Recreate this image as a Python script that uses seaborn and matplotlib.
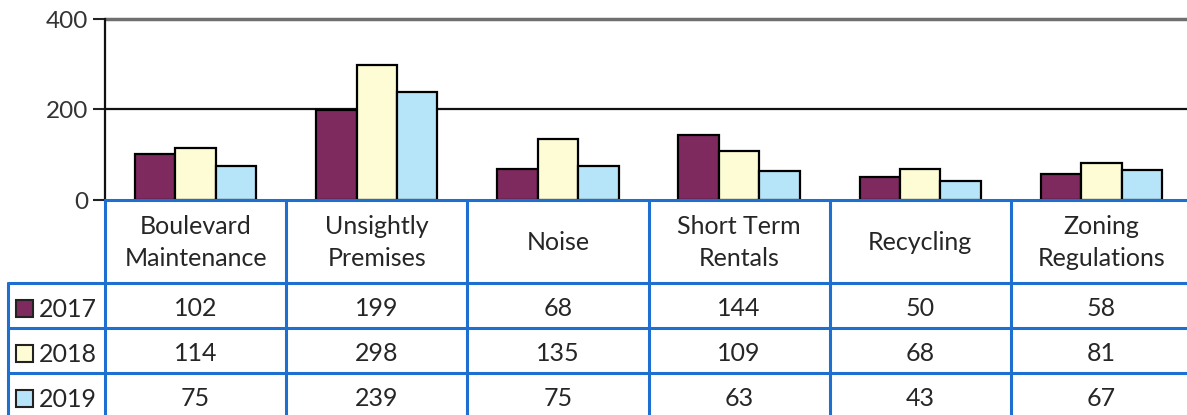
import numpy as np
import pandas as pd
import matplotlib.pyplot as plt
import seaborn as sns
from matplotlib.patches import Rectangle

# complaint categories and counts per year
categories = ["Boulevard\nMaintenance", "Unsightly\nPremises", "Noise",
              "Short Term\nRentals", "Recycling", "Zoning\nRegulations"]
years = ["2017", "2018", "2019"]
counts_2017 = [102, 199, 68, 144, 50, 58]
counts_2018 = [114, 298, 135, 109, 68, 81]
counts_2019 = [75, 239, 75, 63, 43, 67]
year_colors = ["#7e2a5f", "#fdfcd4", "#b6e4f8"]
y_ticks = [0, 200, 400]

TEXT = "#262626"
BLUE = "#1f6fd0"


def main():
    df = pd.DataFrame({"category": categories, "2017": counts_2017,
                       "2018": counts_2018, "2019": counts_2019})
    long_df = df.melt(id_vars="category", var_name="year", value_name="count")

    sns.set_style("white")
    plt.rcParams['font.family'] = ['Lato', 'DejaVu Sans']

    W, H = 1187, 415
    fig = plt.figure(figsize=(W / 100, H / 100), dpi=100)

    # bar chart part
    ax = fig.add_axes([105 / W, (H - 200) / H, (1192 - 105) / W, 181 / H])
    sns.barplot(data=long_df, x="category", y="count", hue="year",
                hue_order=years, palette=year_colors, saturation=1,
                width=0.67, edgecolor="black", linewidth=1.6,
                legend=False, ax=ax, zorder=3)
    ax.set_xlim(-0.5, len(categories) - 0.5)
    ax.set_ylim(0, 400)
    ax.set_yticks(y_ticks)
    ax.set_yticklabels([str(t) for t in y_ticks], fontsize=17.5, color="#333333")
    ax.tick_params(axis='y', length=9, width=1.5, color="#222222", pad=3, left=True)
    ax.set_xticks([])
    ax.set_xlabel("")
    ax.set_ylabel("")
    ax.axhline(200, color="#111111", lw=1.6, zorder=1)
    ax.axhline(400, color="#6f6f6f", lw=2.5, zorder=1, clip_on=False)
    for s in ["top", "right", "bottom"]:
        ax.spines[s].set_visible(False)
    ax.spines["left"].set_color("#111111")
    ax.spines["left"].set_linewidth(1.6)

    # data table part (y in pixel rows)
    col_w = 181
    lab_left = -0.5 - (105 - 8) / col_w
    tax = fig.add_axes([8 / W, (H - 418) / H, (1192 - 8) / W, 218 / H])
    tax.set_xlim(lab_left, len(categories) - 0.5)
    tax.set_ylim(418, 200)
    tax.axis("off")

    rows = [200, 283, 328, 373, 418]
    tax.plot([-0.5, len(categories) - 0.5], [rows[0], rows[0]], color=BLUE, lw=2.2, clip_on=False)
    for r in rows[1:4]:
        tax.plot([lab_left, len(categories) - 0.5], [r, r], color=BLUE, lw=2.2, clip_on=False)
    for k in range(len(categories) + 1):
        tax.plot([k - 0.5, k - 0.5], [rows[0], rows[-1]], color=BLUE, lw=2.2, clip_on=False)
    tax.plot([lab_left, lab_left], [rows[1], rows[-1]], color=BLUE, lw=2.2, clip_on=False)

    for i, cat in enumerate(categories):
        tax.text(i, (rows[0] + rows[1]) / 2 + 1, cat, ha="center", va="center",
                 fontsize=18, color=TEXT, linespacing=1.5)

    series = [counts_2017, counts_2018, counts_2019]
    for j, (yr, vals, colr) in enumerate(zip(years, series, year_colors)):
        yc = (rows[j + 1] + rows[j + 2]) / 2 + 3
        for i, v in enumerate(vals):
            tax.text(i, yc, str(v), ha="center", va="center", fontsize=18, color=TEXT)
        sq_x = -0.5 - (105 - 16) / col_w
        tax.add_patch(Rectangle((sq_x, yc - 9), 17 / col_w, 17, facecolor=colr,
                                edgecolor="#222222", lw=1.5))
        tax.text(-0.5 - (105 - 39) / col_w, yc + 1, yr, ha="left", va="center",
                 fontsize=18, color=TEXT)

    fig.savefig("out.png", dpi=100)


if __name__ == "__main__":
    main()
